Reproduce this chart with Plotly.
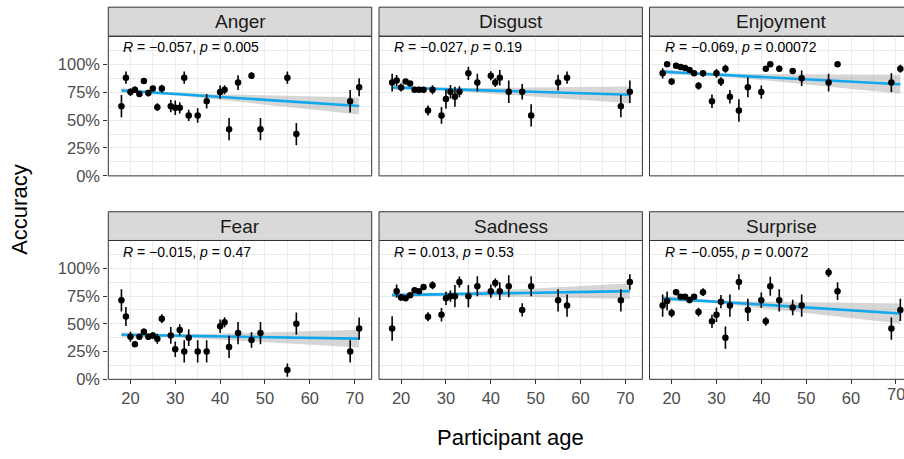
import numpy as np
import plotly.graph_objects as go

# ---------------- data ----------------
ages = [18, 19, 20, 21, 22, 23, 24, 25, 26, 27, 29, 30, 31, 32, 33, 35, 37,
        40, 41, 42, 44, 47, 49, 55, 57, 69, 71]

emotions = ["Anger", "Disgust", "Enjoyment", "Fear", "Sadness", "Surprise"]

anger_acc = [0.624, 0.879, 0.750, 0.771, 0.732, 0.850, 0.741, 0.782, 0.615, 0.782,
             0.624, 0.609, 0.609, 0.879, 0.541, 0.541, 0.668, 0.750, 0.771, 0.418,
             0.835, 0.897, 0.418, 0.879, 0.374, 0.668, 0.794]
anger_err = [0.10, 0.055, 0.035, 0.03, 0.025, 0.02, 0.03, 0.025, 0.035, 0.035,
             0.055, 0.065, 0.05, 0.055, 0.05, 0.065, 0.065, 0.06, 0.04, 0.10,
             0.065, 0.03, 0.10, 0.055, 0.10, 0.10, 0.08]

disgust_acc = [0.835, 0.853, 0.791, 0.844, 0.826, 0.771, 0.771, 0.771, 0.585, 0.771,
               0.541, 0.688, 0.753, 0.709, 0.753, 0.918, 0.835, 0.897, 0.835, 0.879,
               0.753, 0.753, 0.541, 0.835, 0.879, 0.624, 0.753]
disgust_err = [0.08, 0.05, 0.035, 0.02, 0.02, 0.02, 0.02, 0.02, 0.045, 0.04,
               0.075, 0.085, 0.06, 0.09, 0.05, 0.06, 0.08, 0.04, 0.04, 0.07,
               0.10, 0.07, 0.10, 0.07, 0.055, 0.10, 0.10]

enjoyment_acc = [0.918, 1.000, 0.844, 0.985, 0.974, 0.965, 0.947, 0.918, 0.806, 0.918,
                 0.668, 0.918, 0.844, 0.959, 0.709, 0.585, 0.794, 0.750, 0.959, 1.000,
                 0.959, 0.938, 0.874, 0.835, 1.000, 0.835, 0.959]
enjoyment_err = [0.045, 0.0, 0.03, 0.005, 0.005, 0.005, 0.01, 0.02, 0.035, 0.03,
                 0.06, 0.04, 0.04, 0.035, 0.06, 0.10, 0.09, 0.06, 0.01, 0.0,
                 0.03, 0.025, 0.07, 0.08, 0.0, 0.085, 0.035]

fear_acc = [0.711, 0.566, 0.383, 0.316, 0.383, 0.428, 0.383, 0.395, 0.366, 0.546,
            0.395, 0.271, 0.445, 0.251, 0.375, 0.251, 0.251, 0.478, 0.513, 0.292,
            0.416, 0.354, 0.416, 0.083, 0.501, 0.251, 0.457]
fear_err = [0.10, 0.085, 0.045, 0.025, 0.02, 0.03, 0.03, 0.03, 0.045, 0.04,
            0.075, 0.07, 0.05, 0.10, 0.075, 0.10, 0.10, 0.06, 0.045, 0.10,
            0.10, 0.07, 0.10, 0.06, 0.10, 0.10, 0.10]

sadness_acc = [0.457, 0.794, 0.737, 0.729, 0.758, 0.802, 0.794, 0.832, 0.563, 0.847,
               0.581, 0.729, 0.749, 0.749, 0.876, 0.749, 0.838, 0.794, 0.867, 0.794,
               0.838, 0.625, 0.838, 0.711, 0.664, 0.711, 0.876]
sadness_err = [0.11, 0.06, 0.03, 0.025, 0.02, 0.02, 0.02, 0.02, 0.04, 0.035,
               0.06, 0.06, 0.05, 0.10, 0.05, 0.10, 0.09, 0.06, 0.04, 0.08,
               0.10, 0.06, 0.09, 0.10, 0.10, 0.10, 0.07]

surprise_acc = [0.664, 0.705, 0.596, 0.785, 0.743, 0.743, 0.714, 0.743, 0.605, 0.785,
                0.522, 0.581, 0.699, 0.375, 0.664, 0.876, 0.625, 0.711, 0.522, 0.838,
                0.711, 0.646, 0.664, 0.962, 0.794, 0.457, 0.625]
surprise_err = [0.10, 0.085, 0.04, 0.025, 0.02, 0.02, 0.03, 0.025, 0.04, 0.035,
                0.06, 0.065, 0.06, 0.10, 0.10, 0.07, 0.10, 0.07, 0.04, 0.085,
                0.10, 0.07, 0.10, 0.04, 0.08, 0.10, 0.10]

stat_labels = ["<i>R</i> = −0.057, <i>p</i> = 0.005",
               "<i>R</i> = −0.027, <i>p</i> = 0.19",
               "<i>R</i> = −0.069, <i>p</i> = 0.00072",
               "<i>R</i> = −0.015, <i>p</i> = 0.47",
               "<i>R</i> = 0.013, <i>p</i> = 0.53",
               "<i>R</i> = −0.055, <i>p</i> = 0.0072"]

x_tick_vals = [20, 30, 40, 50, 60, 70]
y_tick_vals = [0, 0.25, 0.5, 0.75, 1.0]
y_tick_text = ["0%", "25%", "50%", "75%", "100%"]

# fitted regression value at the youngest / oldest age, and CI half-widths
fit_at_min_age = [0.765, 0.791, 0.932, 0.401, 0.758, 0.729]
fit_at_max_age = [0.626, 0.726, 0.821, 0.366, 0.794, 0.593]
ci_halfwidth_min = [0.012, 0.012, 0.012, 0.012, 0.012, 0.012]
ci_halfwidth_max_age = [0.076, 0.075, 0.085, 0.080, 0.070, 0.090]
ci_center_age = 28

acc_series = [anger_acc, disgust_acc, enjoyment_acc, fear_acc, sadness_acc, surprise_acc]
err_series = [anger_err, disgust_err, enjoyment_err, fear_err, sadness_err, surprise_err]

# ---------------- layout geometry (pixels) ----------------
W, H = 904, 459
col_x = [(108.3, 371.7), (379.0, 642.4), (649.5, 912.9)]
row_y = [(37.0, 179.4), (245.3, 386.9)]          # panel top, bottom
strip_y = [(7.3, 37.0), (216.0, 245.3)]
x_range = [15.07, 73.8]
px_per_year = (col_x[0][1] - col_x[0][0]) / (x_range[1] - x_range[0])
x_label_y = 401.5


def px(v):
    return v / W


def py(v):
    return 1 - v / H


FONT = "Liberation Sans, Arial, sans-serif"
BLUE = "#0FA8EC"
TICKFONT = dict(family=FONT, size=16.5, color="#4D4D4D")

fig = go.Figure()
shapes, annotations = [], []

for i, emo in enumerate(emotions):
    r, c = divmod(i, 3)
    ax = "" if i == 0 else str(i + 1)
    x0, x1 = col_x[c]
    y0, y1 = row_y[r]
    vis_x1 = min(x1, W)
    xr = [x_range[0], x_range[0] + (vis_x1 - x0) / px_per_year]

    # regression band + line
    xs = np.linspace(min(ages), max(ages), 80)
    slope = (fit_at_max_age[i] - fit_at_min_age[i]) / (max(ages) - min(ages))
    ys = fit_at_min_age[i] + slope * (xs - min(ages))
    c0 = ci_halfwidth_min[i]
    k = np.sqrt(ci_halfwidth_max_age[i] ** 2 - c0 ** 2) / (max(ages) - ci_center_age)
    hw = np.sqrt(c0 ** 2 + (k * (xs - ci_center_age)) ** 2)
    fig.add_trace(go.Scatter(x=np.concatenate([xs, xs[::-1]]),
                             y=np.concatenate([ys + hw, (ys - hw)[::-1]]),
                             fill="toself", fillcolor="rgba(153,153,153,0.4)",
                             line=dict(width=0), mode="lines", hoverinfo="skip",
                             showlegend=False, xaxis="x" + ax, yaxis="y" + ax))
    fig.add_trace(go.Scatter(x=xs, y=ys, mode="lines",
                             line=dict(color=BLUE, width=2.6),
                             showlegend=False, xaxis="x" + ax, yaxis="y" + ax))
    # points with error bars
    fig.add_trace(go.Scatter(x=ages, y=acc_series[i], mode="markers",
                             marker=dict(color="black", size=6.5),
                             error_y=dict(type="data", array=err_series[i],
                                          color="black", thickness=1.6, width=0),
                             showlegend=False, xaxis="x" + ax, yaxis="y" + ax))

    bottom = r == 1
    left = c == 0
    clipped = vis_x1 < x1
    fig.update_layout(**{
        "xaxis" + ax: dict(domain=[px(x0), px(vis_x1)], range=xr, anchor="y" + ax,
                           tickmode="array", tickvals=x_tick_vals,
                           showgrid=True, gridcolor="#EBEBEB",
                           gridwidth=1.1, zeroline=False, showline=False,
                           minor=dict(tickmode="linear", dtick=10, tick0=25,
                                      showgrid=True, gridcolor="#EBEBEB",
                                      gridwidth=0.55),
                           ticks="outside" if bottom else "", ticklen=4,
                           tickcolor="#333333", tickwidth=1,
                           showticklabels=bottom, tickfont=TICKFONT),
        "yaxis" + ax: dict(domain=[py(y1), py(y0)], range=[0, 1.25],
                           anchor="x" + ax, tickmode="array",
                           tickvals=y_tick_vals, ticktext=y_tick_text,
                           showgrid=True, gridcolor="#EBEBEB", gridwidth=1.1,
                           zeroline=False, showline=False,
                           minor=dict(tickmode="linear", tick0=0.125, dtick=0.25,
                                      showgrid=True, gridcolor="#EBEBEB",
                                      gridwidth=0.55),
                           ticks="outside" if left else "", ticklen=4,
                           tickcolor="#333333", tickwidth=1,
                           showticklabels=left, tickfont=TICKFONT),
    })

    # tick label that runs off the right edge of the page (drawn as text)
    if bottom and clipped:
        for tv in x_tick_vals:
            if xr[1] - 4 < tv <= xr[1]:
                annotations.append(dict(text=str(tv), xref="x" + ax, yref="paper",
                                        x=tv, y=py(x_label_y), xanchor="center",
                                        yanchor="middle", showarrow=False,
                                        font=TICKFONT))

    # panel border
    shapes.append(dict(type="rect", xref="paper", yref="paper",
                       x0=px(x0), x1=px(x1), y0=py(y1), y1=py(y0),
                       line=dict(color="#333333", width=1), layer="above"))
    # strip
    sy0, sy1 = strip_y[r]
    shapes.append(dict(type="rect", xref="paper", yref="paper",
                       x0=px(x0), x1=px(x1), y0=py(sy1), y1=py(sy0),
                       fillcolor="#D9D9D9", line=dict(color="#333333", width=1),
                       layer="below"))
    annotations.append(dict(text=emo, xref="paper", yref="paper",
                            x=px((x0 + x1) / 2), y=py((sy0 + sy1) / 2),
                            xanchor="center", yanchor="middle", showarrow=False,
                            font=dict(family=FONT, size=19, color="#1A1A1A")))
    # correlation label
    annotations.append(dict(text=stat_labels[i], xref="x" + ax, yref="y" + ax,
                            x=min(ages), y=1.15, xanchor="left", yanchor="middle",
                            showarrow=False,
                            font=dict(family=FONT, size=14, color="black")))

annotations.append(dict(text="Accuracy", xref="paper", yref="paper",
                        x=px(20), y=py(214), textangle=-90, showarrow=False,
                        xanchor="center", yanchor="middle",
                        font=dict(family=FONT, size=22, color="black")))
annotations.append(dict(text="Participant age", xref="paper", yref="paper",
                        x=px(510), y=py(446), showarrow=False,
                        xanchor="center", yanchor="middle",
                        font=dict(family=FONT, size=22, color="black")))

fig.update_layout(width=W, height=H, margin=dict(l=0, r=0, t=0, b=0),
                  paper_bgcolor="white", plot_bgcolor="white",
                  shapes=shapes, annotations=annotations, showlegend=False)

fig.write_html("out.html", config={"displayModeBar": False},
               post_script="document.body.style.margin='0';"
                           "document.body.style.overflow='hidden';")
